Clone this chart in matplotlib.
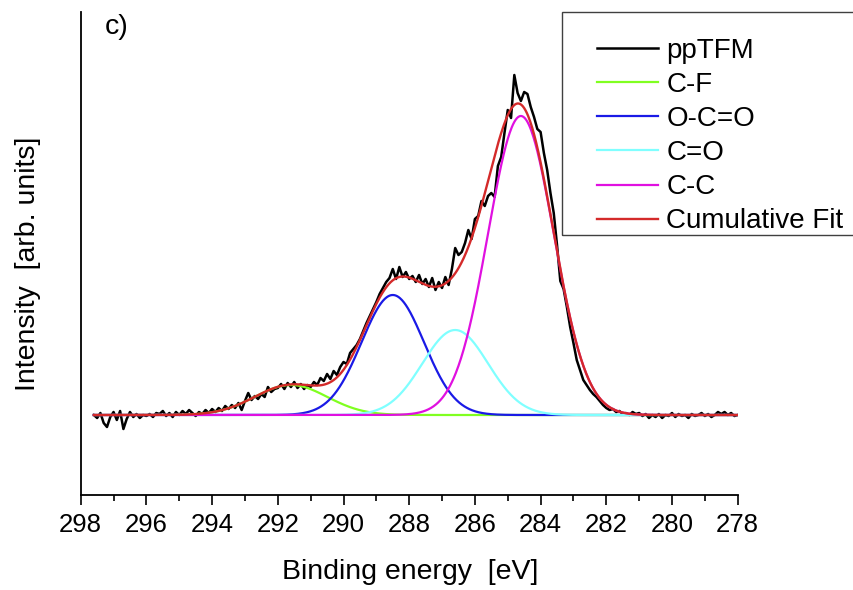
import numpy as np
import matplotlib
matplotlib.use("Agg")
import matplotlib.pyplot as plt
from matplotlib.patches import Rectangle
from matplotlib.ticker import MultipleLocator

plt.rcParams['font.family'] = ['Liberation Sans', 'DejaVu Sans']

# measured spectrum, 297.6 -> 278.0 eV in 0.1 eV steps (arb. units, baseline = 0)
intensity = [
    0, -3, 2, -8, -12, -2, 3, -5, 4, -14, -4, 3, -2, 1, -3, 0, -1, 1, -2, 2,
    1, 4, -1, 2, -2, 3, 0, 4, 1, 5, 2,
    -1, 3, 1, 5, 2, 6, 3, 7, 4, 9, 6, 10, 7, 12, 5, 14, 22, 15, 19, 16,
    21, 18, 28, 23, 26, 27, 31, 26, 32, 28, 33, 27, 31, 26, 30, 28,
    33, 30, 37, 34, 41, 36, 44, 40, 48, 53, 51, 62, 66, 70, 76, 84, 92, 99,
    106, 113, 121, 127, 133, 137, 146, 136, 148, 138, 143, 136,
    139, 133, 140, 131, 136, 128, 137, 125, 133, 127, 138, 130, 146, 167,
    160, 163, 172, 185, 176, 196,
    199, 214, 209, 219, 222, 218, 249, 258, 282, 305, 297, 340, 322, 314,
    323, 321, 308, 298, 286, 283,
    262, 245, 222, 202, 170, 134, 126, 108, 88, 72, 55, 45, 35, 30, 25, 21,
    18, 14, 10, 7, 5, 6, 3, 4, 1,
    2, 0, 3, 1, 2, -1, 1, -3, 0, -2, 1, -3, 0, -1, 2, -2, 1, -1, 0, -3,
    1, -1, 0, 2, -1, 1, -2, 0, 3, 1, 3, 0, 2, -1, 0,
]
energy = np.linspace(297.6, 278.0, len(intensity))

# gaussian fit components
labels = ['C-F', 'O-C=O', 'C=O', 'C-C']
centers = [291.6, 288.5, 286.6, 284.6]
heights = [30, 120, 85, 299]
sigmas = [1.1, 0.95, 1.0, 1.0]
colors = ['#80ff20', '#1a1ae6', '#80ffff', '#e010e0']

fig = plt.figure(figsize=(8.54, 5.90), dpi=100)
ax = fig.add_axes([80.7 / 854, 1 - 495 / 590, 657 / 854, 483 / 590])

ax.plot(energy, intensity, color='black', lw=1.8, label='ppTFM')

e_fit = np.linspace(297.6, 278.0, 981)
total = np.zeros_like(e_fit)
for lab, c, h, s, col in zip(labels, centers, heights, sigmas, colors):
    comp = h * np.exp(-(e_fit - c) ** 2 / (2 * s ** 2))
    total += comp
    ax.plot(e_fit, comp, color=col, lw=1.6, label=lab)
ax.plot(e_fit, total, color='#d42a2a', lw=1.7, label='Cumulative Fit')

ax.set_xlim(298, 278)
ax.set_ylim(-80, 403)
ax.xaxis.set_major_locator(MultipleLocator(2))
ax.xaxis.set_minor_locator(MultipleLocator(1))
ax.tick_params(axis='x', which='major', direction='out', length=7, width=1.2,
               labelsize=18.5, pad=6)
ax.tick_params(axis='x', which='minor', direction='out', length=4.5, width=1.2)
ax.set_yticks([])
for side in ['top', 'right']:
    ax.spines[side].set_visible(False)
for side in ['left', 'bottom']:
    ax.spines[side].set_linewidth(1.3)

fig.text(410 / 854, 1 - 572 / 590, 'Binding energy  [eV]', fontsize=20.5,
         ha='center', va='center')
fig.text(28 / 854, 1 - 264 / 590, 'Intensity  [arb. units]', fontsize=20.5,
         ha='center', va='center', rotation=90)
fig.text(105 / 854, 1 - 27 / 590, 'c)', fontsize=20.5, ha='left', va='center')

# legend frame runs off the right edge
fig.patches.append(Rectangle((562 / 854, 1 - 235 / 590), 320 / 854, 223 / 590,
                             transform=fig.transFigure, fill=False,
                             edgecolor='#404040', lw=1.0))
fig.legend(loc='upper left', bbox_to_anchor=(597 / 854, 1 - 38 / 590),
           frameon=False, fontsize=20, borderpad=0, borderaxespad=0,
           handlelength=2.2, handletextpad=0.3, labelspacing=0.29)

fig.savefig('out.png', dpi=100)
